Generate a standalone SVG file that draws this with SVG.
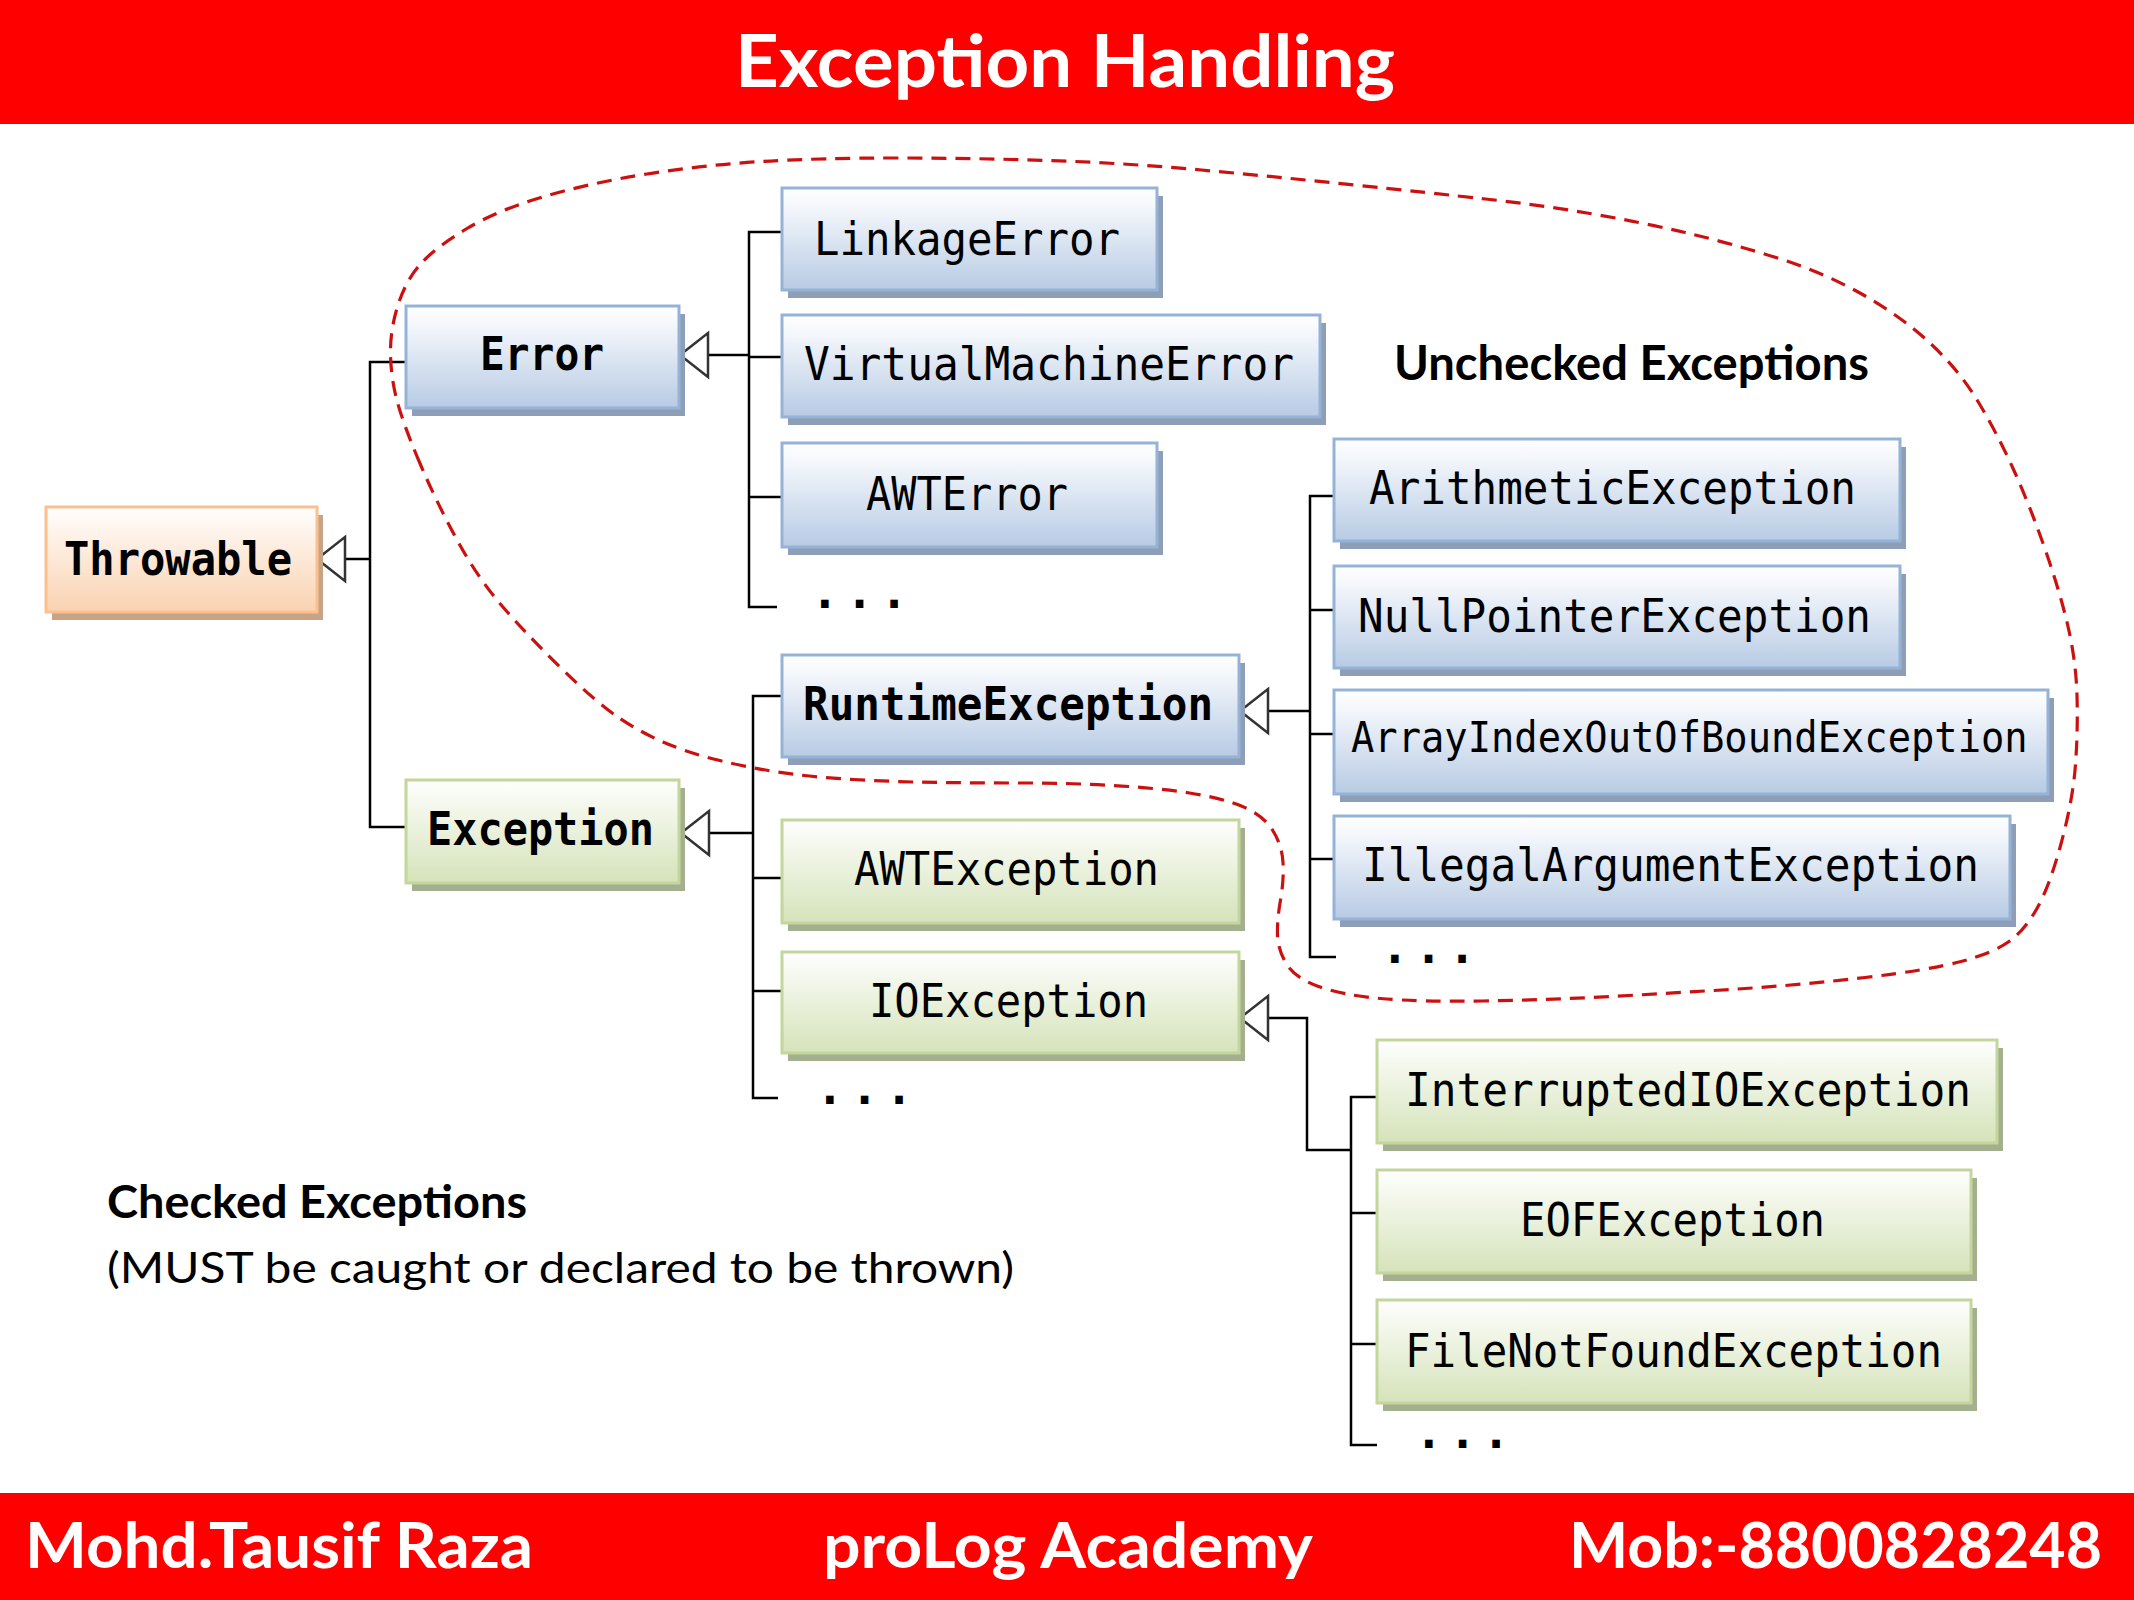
<svg xmlns="http://www.w3.org/2000/svg" width="2134" height="1600" viewBox="0 0 2134 1600">
<defs>
<linearGradient id="gBlue" x1="0" y1="0" x2="0" y2="1">
<stop offset="0" stop-color="#FFFFFF"/><stop offset="0.2" stop-color="#F3F6FB"/><stop offset="1" stop-color="#B7CBE4"/>
</linearGradient>
<linearGradient id="gGreen" x1="0" y1="0" x2="0" y2="1">
<stop offset="0" stop-color="#FFFFFF"/><stop offset="0.2" stop-color="#F6F9F0"/><stop offset="1" stop-color="#D5E3BA"/>
</linearGradient>
<linearGradient id="gOrange" x1="0" y1="0" x2="0" y2="1">
<stop offset="0" stop-color="#FFFFFF"/><stop offset="0.2" stop-color="#FEF5EE"/><stop offset="1" stop-color="#FAD2B0"/>
</linearGradient>
<marker id="tri" markerUnits="userSpaceOnUse" viewBox="-2 -2 32 48" markerWidth="32" markerHeight="48" refX="28" refY="22" orient="auto" overflow="visible">
<path d="M0,0 L28,22 L0,44 Z" fill="#FFFFFF" stroke="#333333" stroke-width="2.5" stroke-linejoin="miter"/>
</marker>
<style>
.bar{fill:#FF0000}
.hdr{font-family:Lato,"Open Sans","Liberation Sans",sans-serif;font-weight:bold;fill:#FFFFFF}
.lbl{font-family:Lato,"Open Sans","Liberation Sans",sans-serif;fill:#000000}
.b{font-weight:bold}
.shB{fill:#8D9EB6}
.shG{fill:#A4AF8F}
.shO{fill:#C8A385}
.boxB{fill:url(#gBlue);stroke:#95B3D7;stroke-width:3}
.boxG{fill:url(#gGreen);stroke:#C3D69B;stroke-width:3}
.boxO{fill:url(#gOrange);stroke:#FAC090;stroke-width:3}
.t{font-family:"DejaVu Sans Mono","Liberation Mono",monospace;font-size:46px;fill:#000000}
.t.sm{font-size:42px}
.dots{font-family:"DejaVu Sans Mono","Liberation Mono",monospace;font-size:46px;font-weight:bold;fill:#000000}
.con{fill:none;stroke:#000000;stroke-width:2.5}
.arr{fill:none;stroke:#000000;stroke-width:2.5;marker-end:url(#tri)}
.zone{fill:none;stroke:#CC1010;stroke-width:3.2;stroke-dasharray:15 9}
</style>
</defs>
<rect width="2134" height="1600" fill="#FFFFFF"/>
<g id="header">
<rect class="bar" x="0" y="0" width="2134" height="124"/>
<text class="hdr" x="735" y="87" font-size="72" textLength="660" lengthAdjust="spacingAndGlyphs">Exception Handling</text>
</g>
<g id="footer">
<rect class="bar" x="0" y="1493" width="2134" height="107"/>
<text class="hdr" x="25" y="1568" font-size="63" textLength="508" lengthAdjust="spacingAndGlyphs">Mohd.Tausif Raza</text>
<text class="hdr" x="823" y="1568" font-size="63" textLength="490" lengthAdjust="spacingAndGlyphs">proLog Academy</text>
<text class="hdr" x="1569" y="1568" font-size="63" textLength="533" lengthAdjust="spacingAndGlyphs">Mob:-8800828248</text>
</g>
<g id="connectors">
<path class="arr" d="M370,559 H317"/>
<path class="con" d="M406,362 H370 V827 H406"/>
<path class="arr" d="M749,355 H680"/>
<path class="con" d="M782,232 H749 V607 H777 M749,357 H782 M749,497 H782"/>
<path class="arr" d="M753,833 H681"/>
<path class="con" d="M782,696 H753 V1098 H778 M753,878 H782 M753,991 H782"/>
<path class="arr" d="M1310,711 H1240"/>
<path class="con" d="M1334,496 H1310 V957 H1336 M1310,610 H1334 M1310,734 H1334 M1310,859 H1334"/>
<path class="arr" d="M1351,1150 H1307 V1018 H1240"/>
<path class="con" d="M1377,1097 H1351 V1445 H1377 M1351,1213 H1377 M1351,1344 H1377"/>
</g>
<g id="unchecked-zone">
<path class="zone" d="M420,463.5 Q404,426 397.5,402.5 Q391,379 390.5,354.5 Q390,330 398,305 Q406,280 421,263.5 Q436,247 467,228.5 Q498,210 544,196.5 Q590,183 647,174 Q704,165 761.5,161.5 Q819,158 895.5,158 Q972,158 1048.5,160.5 Q1125,163 1201.5,170 Q1278,177 1354.5,185 Q1431,193 1485.5,199 Q1540,205 1590,213.5 Q1640,222 1685,232.5 Q1730,243 1777.5,258 Q1825,273 1863.5,295 Q1902,317 1930.5,343.5 Q1959,370 1978,401.5 Q1997,433 2013.5,469.5 Q2030,506 2045,549 Q2060,592 2068,626.5 Q2076,661 2077,695.5 Q2078,730 2075.5,764.5 Q2073,799 2061.5,842 Q2050,885 2037.5,907.5 Q2025,930 2009,941.5 Q1993,953 1961,961.5 Q1929,970 1865,977.5 Q1801,985 1737.5,989 Q1674,993 1610,996.5 Q1546,1000 1482.5,1001 Q1419,1002 1380.5,998.5 Q1342,995 1318.5,986.5 Q1295,978 1286.5,964 Q1278,950 1277.5,935 Q1277,920 1280.5,900 Q1284,880 1283,862.5 Q1282,845 1272.5,830 Q1263,815 1242.5,806.5 Q1222,798 1189.5,793 Q1157,788 1113.5,785.5 Q1070,783 1026.5,783 Q983,783 940,782.5 Q897,782 853.5,779.5 Q810,777 777.5,772 Q745,767 715.5,759.5 Q686,752 663,742 Q640,732 618.5,717.5 Q597,703 562.5,669.5 Q528,636 502.5,606.5 Q477,577 456.5,539 Q436,501 420,463.5 Z"/>
</g>
<g id="n-throwable">
<rect class="shO" x="52" y="515" width="271" height="105"/>
<rect class="boxO" x="46" y="507" width="271" height="105"/>
<text class="t b" x="64" y="575" textLength="228" lengthAdjust="spacingAndGlyphs">Throwable</text>
</g>
<g id="n-error">
<rect class="shB" x="412" y="314" width="273" height="102"/>
<rect class="boxB" x="406" y="306" width="273" height="102"/>
<text class="t b" x="480" y="370" textLength="124" lengthAdjust="spacingAndGlyphs">Error</text>
</g>
<g id="n-exception">
<rect class="shG" x="412" y="788" width="273" height="103"/>
<rect class="boxG" x="406" y="780" width="273" height="103"/>
<text class="t b" x="427" y="845" textLength="227" lengthAdjust="spacingAndGlyphs">Exception</text>
</g>
<g id="n-linkageerror">
<rect class="shB" x="788" y="196" width="375" height="102"/>
<rect class="boxB" x="782" y="188" width="375" height="102"/>
<text class="t" x="814" y="255" textLength="306" lengthAdjust="spacingAndGlyphs">LinkageError</text>
</g>
<g id="n-virtualmachineerror">
<rect class="shB" x="788" y="323" width="538" height="102"/>
<rect class="boxB" x="782" y="315" width="538" height="102"/>
<text class="t" x="804" y="380" textLength="490" lengthAdjust="spacingAndGlyphs">VirtualMachineError</text>
</g>
<g id="n-awterror">
<rect class="shB" x="788" y="451" width="375" height="104"/>
<rect class="boxB" x="782" y="443" width="375" height="104"/>
<text class="t" x="866" y="510" textLength="202" lengthAdjust="spacingAndGlyphs">AWTError</text>
</g>
<text class="dots" x="811" y="608" textLength="97" lengthAdjust="spacing">...</text>
<g id="n-runtimeexception">
<rect class="shB" x="788" y="663" width="457" height="102"/>
<rect class="boxB" x="782" y="655" width="457" height="102"/>
<text class="t b" x="803" y="720" textLength="410" lengthAdjust="spacingAndGlyphs">RuntimeException</text>
</g>
<g id="n-awtexception">
<rect class="shG" x="788" y="828" width="457" height="103"/>
<rect class="boxG" x="782" y="820" width="457" height="103"/>
<text class="t" x="854" y="885" textLength="305" lengthAdjust="spacingAndGlyphs">AWTException</text>
</g>
<g id="n-ioexception">
<rect class="shG" x="788" y="960" width="457" height="101"/>
<rect class="boxG" x="782" y="952" width="457" height="101"/>
<text class="t" x="869" y="1017" textLength="279" lengthAdjust="spacingAndGlyphs">IOException</text>
</g>
<text class="dots" x="816" y="1104" textLength="97" lengthAdjust="spacing">...</text>
<g id="n-arithmeticexception">
<rect class="shB" x="1340" y="447" width="566" height="102"/>
<rect class="boxB" x="1334" y="439" width="566" height="102"/>
<text class="t" x="1369" y="504" textLength="487" lengthAdjust="spacingAndGlyphs">ArithmeticException</text>
</g>
<g id="n-nullpointerexception">
<rect class="shB" x="1340" y="574" width="566" height="102"/>
<rect class="boxB" x="1334" y="566" width="566" height="102"/>
<text class="t" x="1358" y="632" textLength="513" lengthAdjust="spacingAndGlyphs">NullPointerException</text>
</g>
<g id="n-arrayindexoutofboundexception">
<rect class="shB" x="1340" y="698" width="714" height="104"/>
<rect class="boxB" x="1334" y="690" width="714" height="104"/>
<text class="t sm" transform="translate(1351,752) scale(0.923,1)" x="0" y="0">ArrayIndexOutOfBoundException</text>
</g>
<g id="n-illegalargumentexception">
<rect class="shB" x="1340" y="824" width="676" height="103"/>
<rect class="boxB" x="1334" y="816" width="676" height="103"/>
<text class="t" x="1362" y="881" textLength="617" lengthAdjust="spacingAndGlyphs">IllegalArgumentException</text>
</g>
<text class="dots" x="1381" y="963" textLength="95" lengthAdjust="spacing">...</text>
<g id="n-interruptedioexception">
<rect class="shG" x="1383" y="1048" width="620" height="103"/>
<rect class="boxG" x="1377" y="1040" width="620" height="103"/>
<text class="t" x="1405" y="1106" textLength="566" lengthAdjust="spacingAndGlyphs">InterruptedIOException</text>
</g>
<g id="n-eofexception">
<rect class="shG" x="1383" y="1178" width="594" height="103"/>
<rect class="boxG" x="1377" y="1170" width="594" height="103"/>
<text class="t" x="1520" y="1236" textLength="305" lengthAdjust="spacingAndGlyphs">EOFException</text>
</g>
<g id="n-filenotfoundexception">
<rect class="shG" x="1383" y="1308" width="594" height="103"/>
<rect class="boxG" x="1377" y="1300" width="594" height="103"/>
<text class="t" x="1405" y="1367" textLength="537" lengthAdjust="spacingAndGlyphs">FileNotFoundException</text>
</g>
<text class="dots" x="1415" y="1448" textLength="95" lengthAdjust="spacing">...</text>
<g id="labels">
<text class="lbl b" x="1394" y="380" font-size="48" textLength="475" lengthAdjust="spacingAndGlyphs">Unchecked Exceptions</text>
<text class="lbl b" x="107" y="1218" font-size="45" textLength="420" lengthAdjust="spacingAndGlyphs">Checked Exceptions</text>
<text class="lbl" x="107" y="1283" font-size="42" textLength="907" lengthAdjust="spacingAndGlyphs">(MUST be caught or declared to be thrown)</text>
</g>
</svg>
